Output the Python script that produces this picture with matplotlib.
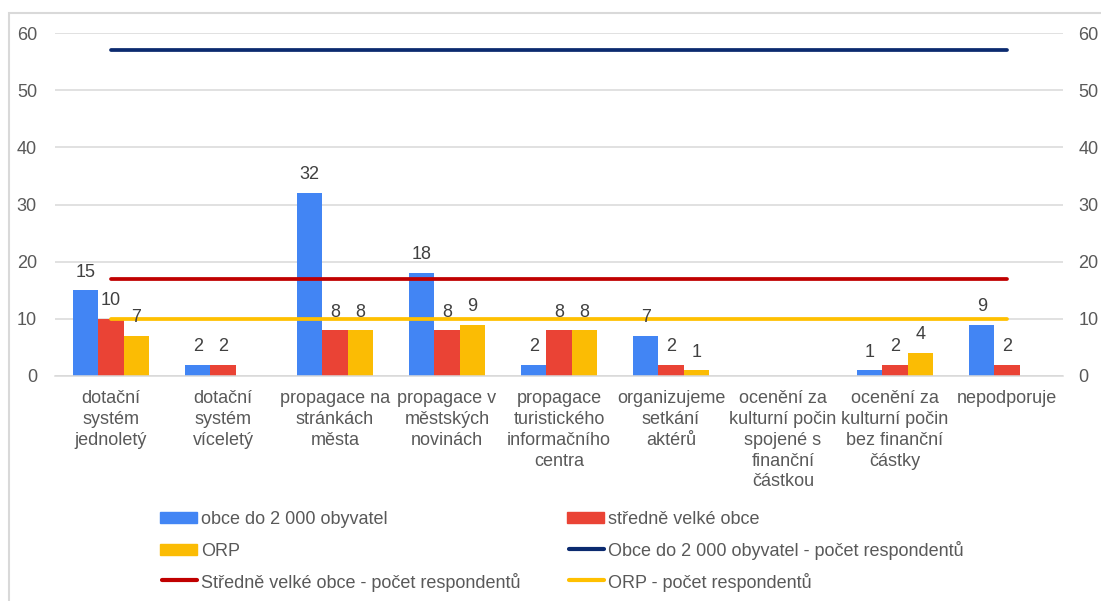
import numpy as np
import matplotlib
matplotlib.use("Agg")
import matplotlib.pyplot as plt
from matplotlib.patches import Rectangle
from matplotlib.lines import Line2D

plt.rcParams['font.family'] = ['Liberation Sans', 'DejaVu Sans']

categories = [
    "dotační\nsystém\njednoletý",
    "dotační\nsystém\nvíceletý",
    "propagace na\nstránkách\nměsta",
    "propagace v\nměstských\nnovinách",
    "propagace\nturistického\ninformačního\ncentra",
    "organizujeme\nsetkání\naktérů",
    "ocenění za\nkulturní počin\nspojené s\nfinanční\nčástkou",
    "ocenění za\nkulturní počin\nbez finanční\nčástky",
    "nepodporuje",
]

small_towns = [15, 2, 32, 18, 2, 7, np.nan, 1, 9]
mid_towns = [10, 2, 8, 8, 8, 2, np.nan, 2, 2]
orp = [7, np.nan, 8, 9, 8, 1, np.nan, 4, np.nan]

resp_small = 57
resp_mid = 17
resp_orp = 10

series_names = ["obce do 2 000 obyvatel", "středně velké obce", "ORP"]
line_names = ["Obce do 2 000 obyvatel - počet respondentů",
              "Středně velké obce - počet respondentů",
              "ORP - počet respondentů"]

bar_colors = ["#4285f4", "#ea4335", "#fbbc04"]
line_colors = ["#0b2a6f", "#c00000", "#ffc000"]
text_color = "#595959"
grid_color = "#d9d9d9"

W, H = 1101, 601
fig = plt.figure(figsize=(W / 100, H / 100), dpi=100)
ax = fig.add_axes([55 / W, 1 - 376 / H, (1063 - 55) / W, (376 - 33) / H])

x = np.arange(len(categories))
w = 0.225
for i, (vals, col) in enumerate(zip([small_towns, mid_towns, orp], bar_colors)):
    ax.bar(x + (i - 1) * w, vals, width=w, color=col, zorder=2)
    for xi, v in zip(x + (i - 1) * w, vals):
        if not np.isnan(v):
            ax.annotate(f"{v:g}", (xi, v), xytext=(0, 7), textcoords="offset points",
                        ha="center", va="bottom", fontsize=13, color="#404040", zorder=4)

for val, col in zip([resp_small, resp_mid, resp_orp], line_colors):
    ax.plot(x, [val] * len(x), color=col, lw=2.7, solid_capstyle="round", zorder=3)

ax.set_xlim(-0.5, len(categories) - 0.5)
ax.set_ylim(0, 60)
ax.set_yticks(range(0, 61, 10))
ax.yaxis.grid(True, color=grid_color, lw=1.1, zorder=0)
ax.set_axisbelow(True)
for s in ["top", "left", "right"]:
    ax.spines[s].set_visible(False)
ax.spines["bottom"].set_color(grid_color)
ax.spines["bottom"].set_linewidth(1.1)
ax.tick_params(axis="y", length=0, pad=13, labelsize=13, labelcolor=text_color)
ax.set_xticks(x)
ax.set_xticklabels(categories, fontsize=13, color=text_color, linespacing=1.3)
ax.tick_params(axis="x", length=0, pad=10)

ax2 = ax.twinx()
ax2.set_ylim(0, 60)
ax2.set_yticks(range(0, 61, 10))
for s in ["top", "left", "right", "bottom"]:
    ax2.spines[s].set_visible(False)
ax2.tick_params(axis="y", length=0, pad=11, labelsize=13, labelcolor=text_color)

# legend laid out as a 2-column, row-major grid below the plot
legend_items = [
    ("bar", bar_colors[0], series_names[0]),
    ("bar", bar_colors[1], series_names[1]),
    ("bar", bar_colors[2], series_names[2]),
    ("line", line_colors[0], line_names[0]),
    ("line", line_colors[1], line_names[1]),
    ("line", line_colors[2], line_names[2]),
]
col_x = [160, 567]
row_y = [517, 549, 580]
handle_len = 37
for k, (kind, col, lab) in enumerate(legend_items):
    hx = col_x[k % 2]
    hy = row_y[k // 2]
    if kind == "bar":
        fig.patches.append(Rectangle((hx / W, 1 - (hy + 5.5) / H), handle_len / W, 11 / H,
                                     transform=fig.transFigure, color=col))
    else:
        fig.lines.append(Line2D([(hx + 2) / W, (hx + handle_len) / W], [1 - hy / H, 1 - hy / H],
                                transform=fig.transFigure, color=col, lw=3,
                                solid_capstyle="round"))
    fig.text((hx + handle_len + 4) / W, 1 - hy / H, lab, fontsize=13,
             color=text_color, ha="left", va="center_baseline")

fig.patches.append(Rectangle((9 / W, -0.1), 1.2, 1 - 13 / H + 0.1,
                             transform=fig.transFigure, fill=False,
                             edgecolor="#d9d9d9", lw=1.5))

fig.savefig("out.png", dpi=100)
